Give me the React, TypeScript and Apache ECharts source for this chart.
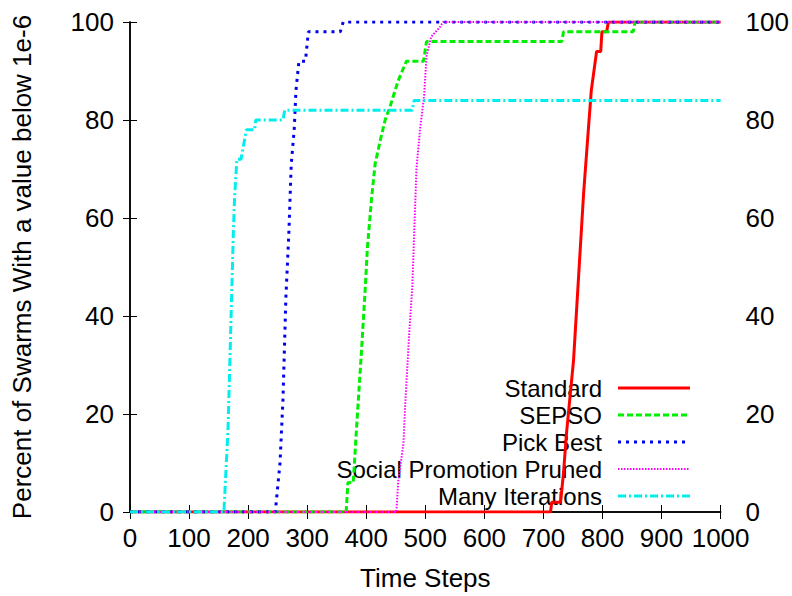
import React, { useEffect, useRef } from "react";
import * as echarts from "echarts";

const seriesNames = ["Standard", "SEPSO", "Pick Best", "Social Promotion Pruned", "Many Iterations"];
const seriesColors = ["#ff0000", "#00ee00", "#0000ee", "#ff00ff", "#00eeee"];

const standard: [number, number][] = [
  [0, 0], [712, 0], [714, 2], [729, 2], [734, 8], [739, 16], [751, 31], [759, 47], [768, 65],
  [776, 78], [781, 86], [790, 94], [797, 94], [799, 98], [807, 98], [810, 100], [1000, 100],
];
const sepso: [number, number][] = [
  [0, 0], [366, 0], [369, 6], [378, 6], [383, 16], [392, 33], [398, 45], [402, 54], [409, 64],
  [415, 71], [424, 76], [432, 80], [441, 83], [454, 88], [468, 92], [497, 92], [502, 96],
  [731, 96], [734, 98], [852, 98], [855, 100], [1000, 100],
];
const pickBest: [number, number][] = [
  [0, 0], [246, 0], [254, 10], [259, 23], [264, 44], [269, 57], [273, 71], [278, 78], [281, 86],
  [286, 92], [297, 92], [302, 98], [356, 98], [361, 100], [1000, 100],
];
const socialPromotionPruned: [number, number][] = [
  [0, 0], [451, 0], [454, 6], [463, 14], [466, 22], [473, 37], [478, 46], [485, 70], [491, 78],
  [498, 85], [502, 93], [510, 97], [525, 99], [530, 100], [1000, 100],
];
const manyIterations: [number, number][] = [
  [0, 0], [159, 0], [166, 17], [175, 57], [177, 64], [181, 72], [188, 72], [191, 74], [197, 78],
  [211, 78], [213, 80], [259, 80], [262, 82], [478, 82], [481, 84], [1000, 84],
];
const seriesData = [standard, sepso, pickBest, socialPromotionPruned, manyIterations];

const xTickMin = 0;
const xTickMax = 1000;
const xTickStep = 100;
const yTickMin = 0;
const yTickMax = 100;
const yTickStep = 20;

const xTitle = "Time Steps";
const yTitle = "Percent of Swarms With a value below 1e-6";

const FONT = "'Liberation Sans', Arial, sans-serif";
const FS = 26;
const LEGEND_FS = 24;

const lineStyles: any[] = [
  { width: 3, type: "solid" },
  { width: 3, type: [6, 3] },
  { width: 3, type: [3, 5] },
  { width: 2, type: [1.5, 1.5] },
  { width: 3, type: [8, 3, 2, 3] },
];

export default function App() {
  const ref = useRef<HTMLDivElement>(null);
  useEffect(() => {
    if (!ref.current) return;
    const chart = echarts.init(ref.current, undefined, { renderer: "svg" });
    const axisLine = { show: true, lineStyle: { color: "#000", width: 1.5 } };
    const axisTick = { show: true, inside: true, length: 7, lineStyle: { color: "#000", width: 1 } };
    const label = { color: "#000", fontSize: FS, fontFamily: FONT, formatter: (v: number) => String(v) };

    const legendTop = 388;
    const legendStep = 27;
    const legendGraphics: any[] = [];
    seriesNames.forEach((name, i) => {
      const y = legendTop + i * legendStep;
      legendGraphics.push({
        type: "text",
        x: 602,
        y: y,
        style: {
          text: name,
          fill: "#000",
          fontSize: LEGEND_FS,
          fontFamily: FONT,
          lineHeight: 24,
          textAlign: "right",
          textVerticalAlign: "middle",
        },
      });
      legendGraphics.push({
        type: "line",
        shape: { x1: 618, y1: y, x2: 690, y2: y },
        style: {
          stroke: seriesColors[i],
          lineWidth: lineStyles[i].width,
          lineDash: lineStyles[i].type === "solid" ? null : lineStyles[i].type,
        },
      });
    });

    chart.setOption({
      animation: false,
      backgroundColor: "#fff",
      grid: { left: 130, right: 70, top: 22, bottom: 80, containLabel: false },
      xAxis: [
        {
          type: "value",
          position: "bottom",
          min: xTickMin,
          max: xTickMax,
          interval: xTickStep,
          name: xTitle,
          nameLocation: "middle",
          nameGap: 53,
          nameTextStyle: { color: "#000", fontSize: FS, fontFamily: FONT },
          axisLine,
          axisTick,
          axisLabel: { ...label, margin: 13 },
          splitLine: { show: false },
        },
        {
          type: "value",
          position: "top",
          min: xTickMin,
          max: xTickMax,
          interval: xTickStep,
          axisLine,
          axisTick,
          axisLabel: { show: false },
          splitLine: { show: false },
        },
      ],
      yAxis: [
        {
          type: "value",
          position: "left",
          min: yTickMin,
          max: yTickMax,
          interval: yTickStep,
          name: yTitle,
          nameLocation: "middle",
          nameGap: 95,
          nameTextStyle: { color: "#000", fontSize: FS, fontFamily: FONT },
          axisLine,
          axisTick,
          axisLabel: { ...label, margin: 16 },
          splitLine: { show: false },
        },
        {
          type: "value",
          position: "right",
          min: yTickMin,
          max: yTickMax,
          interval: yTickStep,
          axisLine,
          axisTick,
          axisLabel: { ...label, margin: 25 },
          splitLine: { show: false },
        },
      ],
      graphic: legendGraphics,
      series: seriesNames.map((name, i) => ({
        name,
        type: "line",
        xAxisIndex: 0,
        yAxisIndex: 0,
        data: seriesData[i],
        showSymbol: false,
        symbol: "none",
        clip: true,
        lineStyle: { color: seriesColors[i], width: lineStyles[i].width, type: lineStyles[i].type },
        z: 2 + i,
      })),
    });
    return () => chart.dispose();
  }, []);
  return (
    <div
      ref={ref}
      style={{ position: "fixed", left: 0, top: 0, width: 792, height: 596, background: "#fff" }}
    />
  );
}
